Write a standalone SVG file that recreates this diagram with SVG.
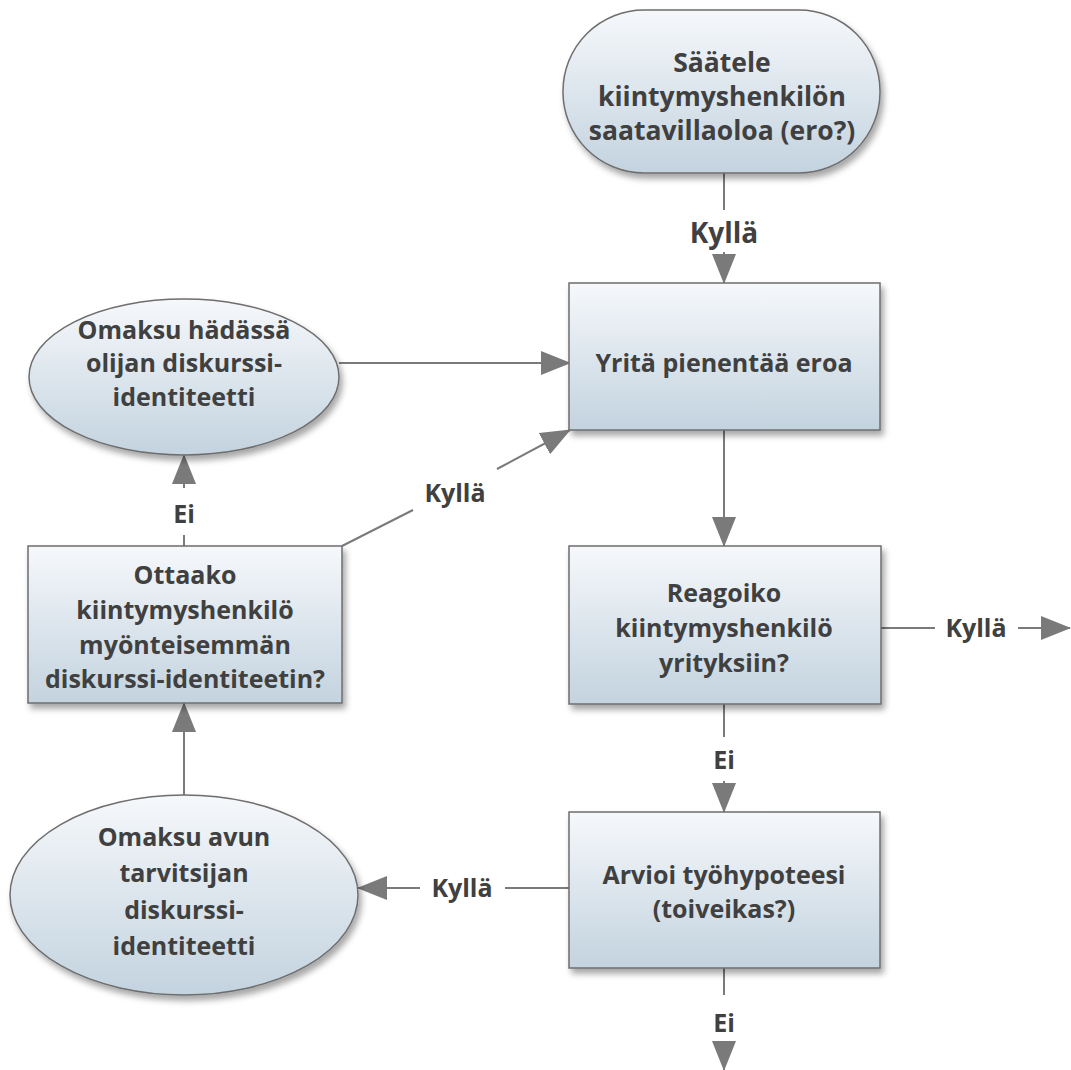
<svg xmlns="http://www.w3.org/2000/svg" width="1071" height="1070" viewBox="0 0 1071 1070">
<defs>
<linearGradient id="g" x1="0" y1="0" x2="0" y2="1">
<stop offset="0" stop-color="#f6f8fb"/>
<stop offset="1" stop-color="#c3d3df"/>
</linearGradient>
<filter id="sh" x="-10%" y="-10%" width="125%" height="130%">
<feDropShadow dx="3" dy="5" stdDeviation="3" flood-color="#000" flood-opacity="0.35"/>
</filter>
<marker id="ah" markerUnits="userSpaceOnUse" markerWidth="30" markerHeight="26" viewBox="0 0 30 26" refX="29" refY="13" orient="auto">
<path d="M0,1 L30,13 L0,25 z" fill="#7a7a7a"/>
</marker>
<style>
.n{fill:url(#g);stroke:#6e6e6e;stroke-width:1.5;filter:url(#sh)}
.t{font-family:"Open Sans","DejaVu Sans",sans-serif;font-weight:bold;font-size:25px;fill:#404040;text-anchor:middle}
.l{font-family:"Open Sans","DejaVu Sans",sans-serif;font-weight:bold;font-size:25px;fill:#404040;text-anchor:middle}
.e{stroke:#7a7a7a;stroke-width:2;fill:none}
</style>
</defs>
<g id="connectors">
<path class="e" d="M724,173 V210"/>
<text class="l" x="724" y="243" style="font-size:28px">Kyllä</text>
<path class="e" d="M724,252 V283" marker-end="url(#ah)"/>
<path class="e" d="M724,430 V546" marker-end="url(#ah)"/>
<path class="e" d="M881,628 H935"/>
<text class="l" x="976" y="637">Kyllä</text>
<path class="e" d="M1018,628 H1070" marker-end="url(#ah)"/>
<path class="e" d="M724,704 V737"/>
<text class="l" x="724" y="769">Ei</text>
<path class="e" d="M724,781 V812" marker-end="url(#ah)"/>
<path class="e" d="M724,968 V995"/>
<text class="l" x="724" y="1032">Ei</text>
<path class="e" d="M724,1043 V1070" marker-end="url(#ah)"/>
<path class="e" d="M570,888 H505"/>
<text class="l" x="462" y="897">Kyllä</text>
<path class="e" d="M420,888 H358" marker-end="url(#ah)"/>
<path class="e" d="M184,795 V703" marker-end="url(#ah)"/>
<path class="e" d="M184,546 V535"/>
<text class="l" x="184" y="523">Ei</text>
<path class="e" d="M184,488 V455" marker-end="url(#ah)"/>
<path class="e" d="M342,546 L413,510"/>
<text class="l" x="455" y="502">Kyllä</text>
<path class="e" d="M497,469 L570,430" marker-end="url(#ah)"/>
<path class="e" d="M339,363 H570" marker-end="url(#ah)"/>
</g>
<g id="n1">
<rect class="n" x="563" y="10" width="317" height="163" rx="81" ry="81"/>
<text class="t" x="722" y="72" style="font-size:26.5px">Säätele</text>
<text class="t" x="722" y="106" style="font-size:26.5px">kiintymyshenkilön</text>
<text class="t" x="722" y="140" style="font-size:26.5px">saatavillaoloa (ero?)</text>
</g>
<g id="n2">
<rect class="n" x="569" y="283" width="311" height="147"/>
<text class="t" x="724" y="372">Yritä pienentää eroa</text>
</g>
<g id="n3">
<rect class="n" x="569" y="546" width="312" height="158"/>
<text class="t" x="724" y="602">Reagoiko</text>
<text class="t" x="724" y="637">kiintymyshenkilö</text>
<text class="t" x="724" y="672">yrityksiin?</text>
</g>
<g id="n4">
<rect class="n" x="569" y="812" width="311" height="156"/>
<text class="t" x="724" y="884">Arvioi työhypoteesi</text>
<text class="t" x="724" y="918">(toiveikas?)</text>
</g>
<g id="n5">
<ellipse class="n" cx="184" cy="895" rx="174" ry="100"/>
<text class="t" x="184" y="846">Omaksu avun</text>
<text class="t" x="184" y="882">tarvitsijan</text>
<text class="t" x="184" y="919">diskurssi-</text>
<text class="t" x="184" y="955">identiteetti</text>
</g>
<g id="n6">
<rect class="n" x="28" y="546" width="314" height="157"/>
<text class="t" x="185" y="584">Ottaako</text>
<text class="t" x="185" y="619">kiintymyshenkilö</text>
<text class="t" x="185" y="654">myönteisemmän</text>
<text class="t" x="185" y="688">diskurssi-identiteetin?</text>
</g>
<g id="n7">
<ellipse class="n" cx="184" cy="377" rx="155" ry="78"/>
<text class="t" x="184" y="339">Omaksu hädässä</text>
<text class="t" x="184" y="372">olijan diskurssi-</text>
<text class="t" x="184" y="406">identiteetti</text>
</g>
</svg>
